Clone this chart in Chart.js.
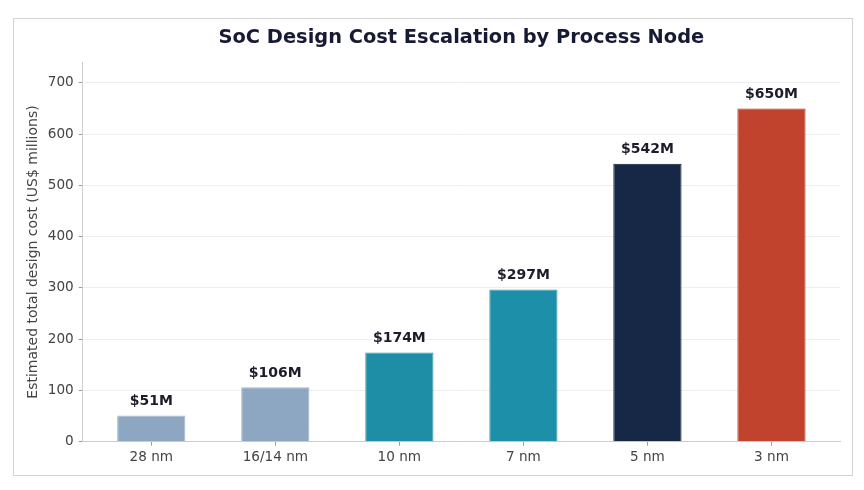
<!DOCTYPE html>
<html>
<head>
<meta charset="utf-8">
<script src="https://cdn.jsdelivr.net/npm/chart.js@4.4.0/dist/chart.umd.min.js"></script>
<style>
  html, body { margin: 0; padding: 0; background: #ffffff; }
  #wrap { position: relative; width: 864px; height: 490px; }
  #frame {
    position: absolute; left: 13px; top: 18px; width: 838px; height: 456px;
    border: 1.5px solid #d4d4d4; pointer-events: none;
  }
</style>
</head>
<body>
<div id="wrap">
  <canvas id="costChart" width="864" height="490"></canvas>
  <div id="frame"></div>
</div>
<script>
const nodes = ['28 nm', '16/14 nm', '10 nm', '7 nm', '5 nm', '3 nm'];
const designCost = [51, 106, 174, 297, 542, 650];
const costLabels = ['$51M', '$106M', '$174M', '$297M', '$542M', '$650M'];
const yTicks = [0, 100, 200, 300, 400, 500, 600, 700];

const barColors = ['#8da7c2', '#8da7c2', '#1e8da6', '#1e8fa8', '#172846', '#c1432e'];
const edgeColors = ['#a3b8cd', '#a3b8cd', '#3299b0', '#3299b0', '#0e1a30', '#b03827'];

const font = "'DejaVu Sans', sans-serif";

const valueLabels = {
    id: 'valueLabels',
    afterDatasetsDraw(chart) {
        const ctx = chart.ctx;
        const meta = chart.getDatasetMeta(0);
        ctx.save();
        ctx.font = 'bold 14px ' + font;
        ctx.fillStyle = '#1c1c2c';
        ctx.textAlign = 'center';
        ctx.textBaseline = 'bottom';
        meta.data.forEach((bar, i) => {
            ctx.fillText(costLabels[i], bar.x, bar.y - 7);
        });
        ctx.restore();
    }
};

const ctx = document.getElementById('costChart').getContext('2d');
new Chart(ctx, {
    type: 'bar',
    data: {
        datasets: [{
            data: designCost.map((v, i) => ({x: i, y: v})),
            backgroundColor: barColors,
            borderColor: edgeColors,
            borderWidth: 1,
            barPercentage: 0.55,
            categoryPercentage: 1.0
        }]
    },
    options: {
        responsive: false,
        animation: false,
        layout: {padding: {left: 25, right: 24, top: 8, bottom: 20}},
        plugins: {
            legend: {display: false},
            tooltip: {enabled: false},
            title: {
                display: true,
                fullSize: false,
                text: 'SoC Design Cost Escalation by Process Node',
                color: '#161a33',
                font: {family: font, size: 19.4, weight: 'bold'},
                padding: {top: 18, bottom: 13}
            }
        },
        scales: {
            x: {
                type: 'linear',
                min: -0.5525,
                max: 5.5525,
                offset: false,
                ticks: {
                    stepSize: 1,
                    includeBounds: false,
                    color: '#444444',
                    font: {family: font, size: 13.6},
                    padding: 4,
                    callback: (v) => nodes[v]
                },
                grid: {
                    offset: false,
                    drawOnChartArea: false,
                    drawTicks: true,
                    tickLength: 4,
                    tickColor: '#999999',
                    lineWidth: 1
                },
                border: {display: true, color: '#cccccc', width: 1}
            },
            y: {
                min: 0,
                max: 740,
                ticks: {
                    stepSize: 100,
                    includeBounds: false,
                    color: '#444444',
                    font: {family: font, size: 13.6},
                    padding: 5,
                    callback: (v) => yTicks.includes(v) ? v : ''
                },
                grid: {
                    color: '#eceef1',
                    tickColor: '#999999',
                    tickLength: 4
                },
                border: {display: true, color: '#cccccc', width: 1},
                title: {
                    display: true,
                    text: 'Estimated total design cost (US$ millions)',
                    color: '#444444',
                    font: {family: font, size: 14},
                    padding: {top: 0, bottom: 1}
                }
            }
        }
    },
    plugins: [valueLabels]
});
</script>
</body>
</html>
